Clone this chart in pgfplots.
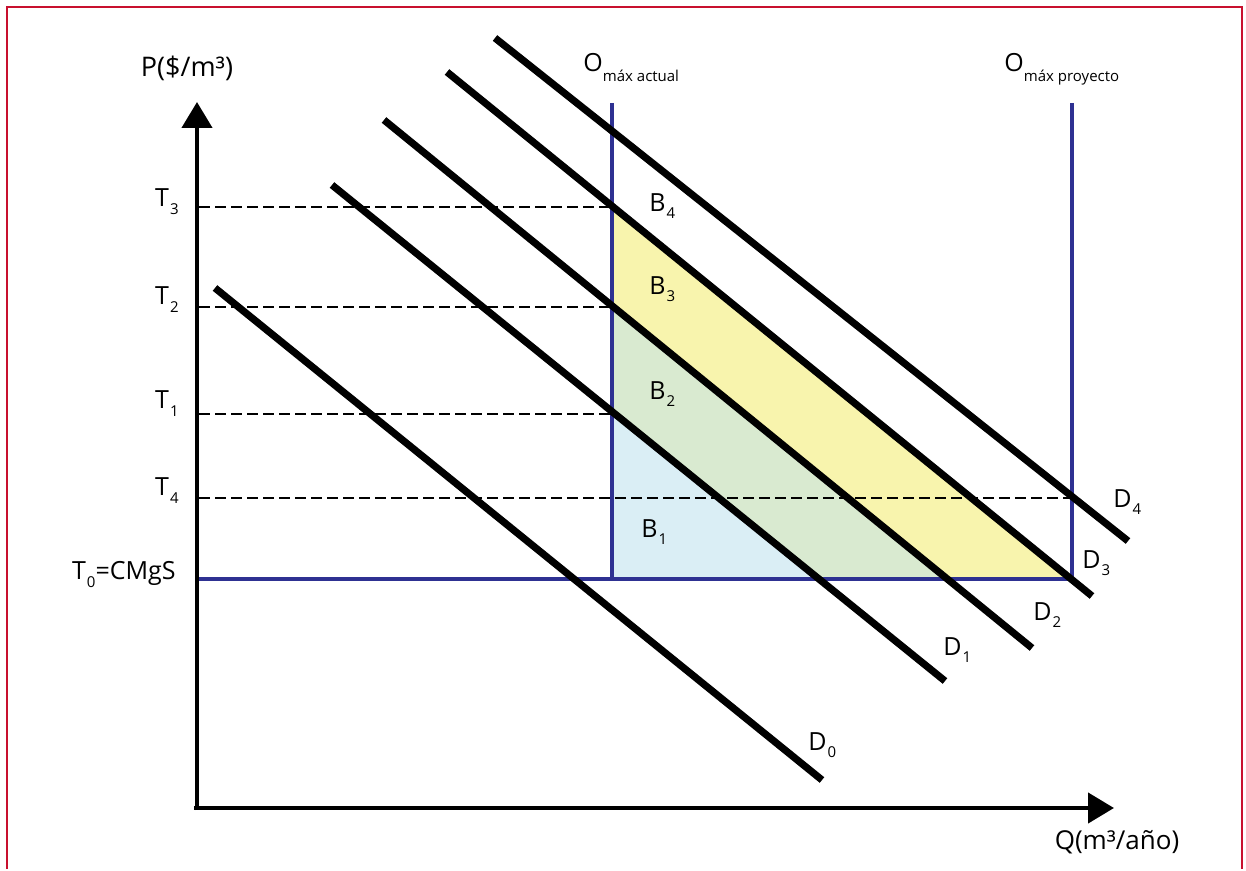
\documentclass[border=0pt]{standalone}
\usepackage{pgfplots}
\pgfplotsset{compat=1.18}
\usetikzlibrary{arrows.meta}
\usepackage{fontspec}
\setmainfont{Open Sans}
\definecolor{frameRed}{HTML}{C8102E}
\definecolor{supBlue}{HTML}{2E3192}
\definecolor{fillB1}{HTML}{DAEEF5}
\definecolor{fillB2}{HTML}{D9EAD0}
\definecolor{fillB3}{HTML}{F8F4AD}
% subscript: size, drop, text
\newcommand\sub[3]{\raisebox{-#2}{\fontsize{#1}{#1}\selectfont #3}}
\newcommand\tl[1]{T\kern0.5pt\sub{7.5}{4pt}{#1}}
\newcommand\bl[1]{B\kern0.5pt\sub{7.5}{3.5pt}{#1}}
\newcommand\dl[1]{D\kern0.5pt\sub{7.5}{3.5pt}{#1}}
\begin{document}
\begin{tikzpicture}[
  tlev/.style={black, line width=1.2pt, dash pattern=on 5.5pt off 2.5pt},
  dem/.style={black, line width=3.6pt},
  sup/.style={supBlue, line width=2pt},
  tlab/.style={anchor=base east, inner sep=0pt, font=\fontsize{12.5}{14}\selectfont},
  blab/.style={anchor=base west, inner sep=0pt, font=\fontsize{12.5}{14}\selectfont},
  dlab/.style={anchor=base west, inner sep=0pt, font=\fontsize{12.5}{14}\selectfont}
]
\begin{axis}[
  scale only axis, width=623pt, height=434.5pt,
  xmin=0, xmax=1246, ymin=0, ymax=869, y dir=reverse,
  axis lines=none, ticks=none, clip=false
]
% corners to hold the page size
\addplot[draw=none] coordinates {(0,0) (1246,869)};
% frame
\addplot[frameRed, line width=1.3pt] coordinates {(7,869) (7,7) (1242,7) (1242,869)};
% surplus areas
\addplot[fill=fillB1, draw=none] coordinates {(612,413) (612,578) (818,578)} -- cycle;
\addplot[fill=fillB2, draw=none] coordinates {(612,307) (612,413) (818,578) (944,578)} -- cycle;
\addplot[fill=fillB3, draw=none] coordinates {(612,207) (612,307) (944,578) (1070,578)} -- cycle;
% tariff levels
\addplot[tlev] coordinates {(199,207) (612,207)};
\addplot[tlev] coordinates {(199,307) (612,307)};
\addplot[tlev] coordinates {(199,414) (612,414)};
\addplot[tlev] coordinates {(199,498) (1072,498)};
% supply limits
\addplot[sup] coordinates {(199,579) (1072,579)};
\addplot[sup] coordinates {(612,103) (612,579)};
\addplot[sup] coordinates {(1072,103) (1072,579)};
% demand curves
\addplot[dem] coordinates {(215,288) (822,780)};
\addplot[dem] coordinates {(332,185) (945,681)};
\addplot[dem] coordinates {(384,120) (1032,648)};
\addplot[dem] coordinates {(447,72) (1092,596)};
\addplot[dem] coordinates {(495,38) (1128,541)};
% axes
\addplot[black, line width=2.2pt, -{Triangle[width=15pt,length=13pt]}] coordinates {(197,810) (197,102)};
\addplot[black, line width=2.2pt, -{Triangle[width=15pt,length=13pt]}] coordinates {(194,808) (1114,808)};
% labels
\node[font=\fontsize{13.5}{15}\selectfont] at (axis cs:187,68) {P(\$/m³)};
\node[font=\fontsize{13}{15}\selectfont] at (axis cs:1117,842) {Q(m³/año)};
\node[tlab] at (axis cs:179,207) {\tl{3}};
\node[tlab] at (axis cs:179,305) {\tl{2}};
\node[tlab] at (axis cs:179,409) {\tl{1}};
\node[tlab] at (axis cs:179,495) {\tl{4}};
\node[tlab] at (axis cs:176,579) {\tl{0}=CMgS};
\node[anchor=base west, inner sep=0pt, font=\fontsize{12.5}{14}\selectfont] at (axis cs:583,72) {O\sub{7.5}{5pt}{máx actual}};
\node[anchor=base west, inner sep=0pt, font=\fontsize{12.5}{14}\selectfont] at (axis cs:1004,72) {O\sub{7.5}{5pt}{máx proyecto}};
\node[blab] at (axis cs:649,212) {\bl{4}};
\node[blab] at (axis cs:649,295) {\bl{3}};
\node[blab] at (axis cs:649,400) {\bl{2}};
\node[blab] at (axis cs:641,537) {\bl{1}};
\node[dlab] at (axis cs:1113,507) {\dl{4}};
\node[dlab] at (axis cs:1082,568) {\dl{3}};
\node[dlab] at (axis cs:1033,620) {\dl{2}};
\node[dlab] at (axis cs:943,655) {\dl{1}};
\node[dlab] at (axis cs:808,750) {\dl{0}};
\end{axis}
\end{tikzpicture}
\end{document}
